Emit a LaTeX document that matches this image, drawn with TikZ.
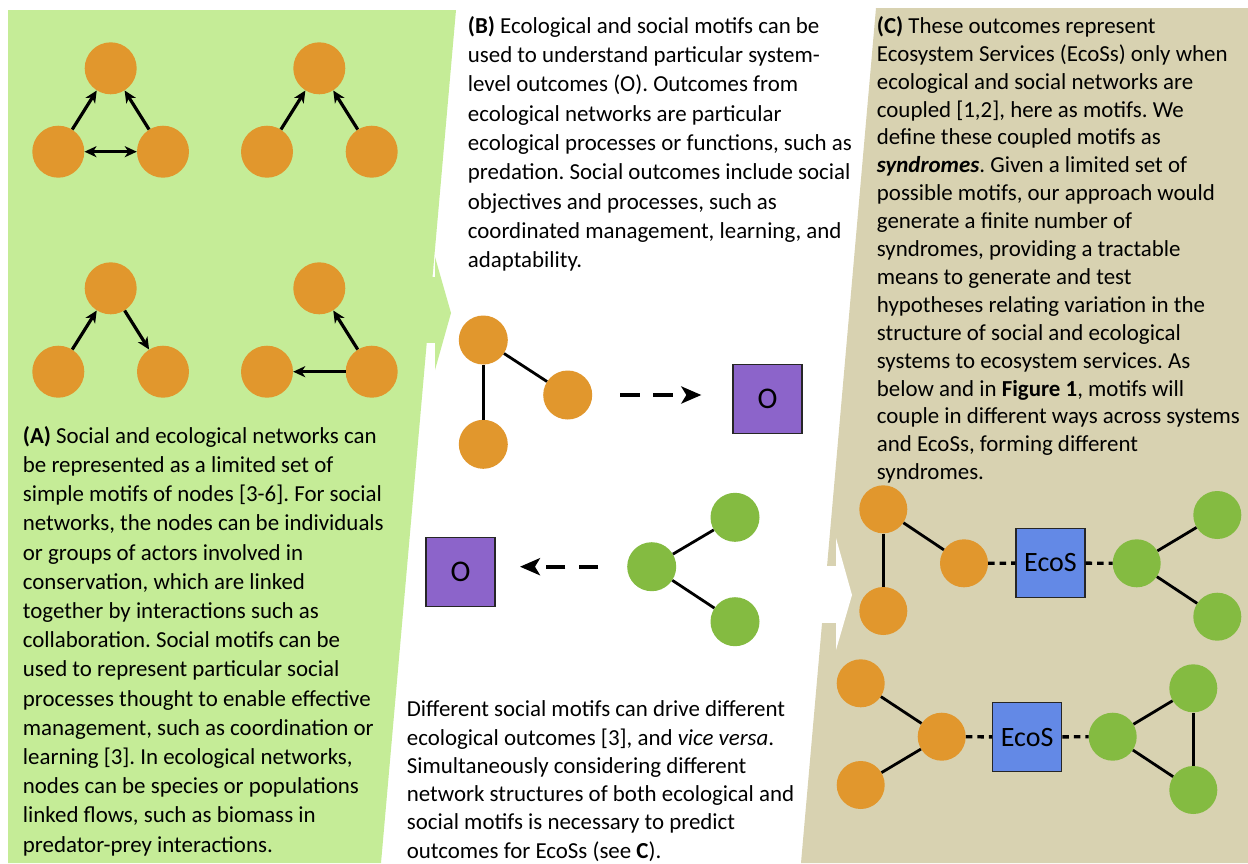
\documentclass[tikz,border=0pt]{standalone}
\usepackage{fontspec}
\setmainfont{Carlito}
\usetikzlibrary{arrows.meta}
\definecolor{panelgreen}{HTML}{C5EC97}
\definecolor{paneltan}{HTML}{D8D2B1}
\definecolor{orng}{HTML}{E1972D}
\definecolor{grn}{HTML}{84BB41}
\definecolor{purp}{HTML}{8C64CA}
\definecolor{blu}{HTML}{6389E6}
\frenchspacing
\begin{document}
\begin{tikzpicture}[x=1pt,y=-1pt,
  ao/.style={circle, fill=orng, inner sep=0pt, minimum size=52pt},
  bo/.style={circle, fill=orng, inner sep=0pt, minimum size=49pt},
  bg/.style={circle, fill=grn, inner sep=0pt, minimum size=49pt},
  co/.style={circle, fill=orng, inner sep=0pt, minimum size=48pt},
  cg/.style={circle, fill=grn, inner sep=0pt, minimum size=48pt},
  obox/.style={draw=black!85, line width=1.3pt, fill=purp, minimum width=69pt, minimum height=69pt, inner sep=0pt, font=\fontsize{30}{30}\selectfont},
  ebox/.style={draw=black!85, line width=1.3pt, fill=blu, minimum width=69pt, minimum height=69pt, inner sep=0pt, font=\fontsize{28}{28}\selectfont},
  arr/.style={line width=3.2pt, -{Stealth[length=12pt,width=11pt,inset=3.5pt]}},
  darr/.style={line width=3.2pt, {Stealth[length=12pt,width=11pt,inset=3.5pt]}-{Stealth[length=12pt,width=11pt,inset=3.5pt]}},
  link/.style={line width=2.8pt},
  dasharr/.style={line width=4pt, -{Stealth[length=20pt,width=17pt,inset=5pt]}},
  dotlink/.style={line width=3.3pt, dash pattern=on 6.5pt off 5pt},
  txt/.style={anchor=base west, inner sep=0pt, font=\fontsize{22.9}{#1}\selectfont}
]
\useasboundingbox (0,0) rectangle (1248,863);
\fill[white] (0,0) rectangle (1248,863);
% panels
\fill[panelgreen] (8,10) -- (456,10) -- (381,863) -- (8,863) -- cycle;
\fill[panelgreen] (419,277) rectangle (436,343);
\fill[panelgreen] (435,257) -- (451,313) -- (435,370) -- cycle;
\fill[paneltan] (876,8) -- (1248,8) -- (1248,863) -- (801,863) -- cycle;
\fill[white] (815,566) rectangle (836.5,623);
\fill[white] (836,538) -- (852,595) -- (836,650) -- cycle;

% panel A motifs
\node[ao] (a1t) at (110.7,68.3) {};
\node[ao] (a1l) at (58.3,151.7) {};
\node[ao] (a1r) at (163,151.7) {};
\node[ao] (a2t) at (319.3,68.3) {};
\node[ao] (a2l) at (267,151.7) {};
\node[ao] (a2r) at (371.7,151.7) {};
\node[ao] (a3t) at (110.7,288.3) {};
\node[ao] (a3l) at (58.3,371.7) {};
\node[ao] (a3r) at (163,371.7) {};
\node[ao] (a4t) at (319.3,288.3) {};
\node[ao] (a4l) at (267,371.7) {};
\node[ao] (a4r) at (371.7,371.7) {};
\draw[arr] (a1l) -- (a1t);
\draw[arr] (a1r) -- (a1t);
\draw[darr] (a1l) -- (a1r);
\draw[arr] (a2l) -- (a2t);
\draw[arr] (a2r) -- (a2t);
\draw[arr] (a3l) -- (a3t);
\draw[arr] (a3t) -- (a3r);
\draw[arr] (a4r) -- (a4t);
\draw[arr] (a4r) -- (a4l);

% panel B
\node[bo] (b1) at (483.3,340) {};
\node[bo] (b2) at (567.7,395) {};
\node[bo] (b3) at (483.3,444.3) {};
\draw[link] (b1) -- (b3);
\draw[link] (b1) -- (b2);
\node[obox] (o1) at (767.5,398.8) {O};
\draw[dasharr, dash pattern=on 20pt off 13.3pt, shorten <=27.6pt, shorten >=31pt] (b2.east) -- (o1.west |- b2.east);

\node[bg] (g1) at (651.7,566.7) {};
\node[bg] (g2) at (735,517.3) {};
\node[bg] (g3) at (735,621.7) {};
\draw[link] (g1) -- (g2);
\draw[link] (g1) -- (g3);
\node[obox] (o2) at (460.5,571.7) {O};
\draw[dasharr, dash pattern=on 19pt off 14pt, shorten <=28.7pt, shorten >=24.3pt] (g1.west) -- (o2.east |- g1.west);

% panel C row 1
\node[co] (c1a) at (883.3,509.3) {};
\node[co] (c1b) at (883.3,611) {};
\node[co] (c1c) at (964,563.3) {};
\node[ebox] (e1) at (1050.5,563) {EcoS};
\node[cg] (d1a) at (1136.7,563.3) {};
\node[cg] (d1b) at (1217.3,515) {};
\node[cg] (d1c) at (1217.3,616.7) {};
\draw[link] (c1a) -- (c1b);
\draw[link] (c1a) -- (c1c);
\draw[link] (d1a) -- (d1b);
\draw[link] (d1a) -- (d1c);
\draw[dotlink] (c1c) -- (e1);
\draw[dotlink] (e1) -- (d1a);

% panel C row 2
\node[co] (c2a) at (860.7,683.3) {};
\node[co] (c2b) at (860.7,785) {};
\node[co] (c2c) at (941.7,736.7) {};
\node[ebox] (e2) at (1027.2,737) {EcoS};
\node[cg] (d2a) at (1112.7,736.7) {};
\node[cg] (d2b) at (1193.3,688.3) {};
\node[cg] (d2c) at (1193.3,790) {};
\draw[link] (c2c) -- (c2a);
\draw[link] (c2c) -- (c2b);
\draw[link] (d2a) -- (d2b);
\draw[link] (d2a) -- (d2c);
\draw[link] (d2b) -- (d2c);
\draw[dotlink] (c2c) -- (e2);
\draw[dotlink] (e2) -- (d2a);

% texts
\node[txt=29.2] (ta) at (22.7,443.3) {\begin{tabular}[t]{@{}l@{}}
\textbf{(A)} Social and ecological networks can\\
be represented as a limited set of\\
simple motifs of nodes [3-6]. For social\\
networks, the nodes can be individuals\\
or groups of actors involved in\\
conservation, which are linked\\
together by interactions such as\\
collaboration. Social motifs can be\\
used to represent particular social\\
processes thought to enable effective\\
management, such as coordination or\\
learning [3]. In ecological networks,\\
nodes can be species or populations\\
linked flows, such as biomass in\\
predator-prey interactions.
\end{tabular}};

\node[txt=29.3] (tb) at (467.7,33.3) {\begin{tabular}[t]{@{}l@{}}
\textbf{(B)} Ecological and social motifs can be\\
used to understand particular system-\\
level outcomes (O). Outcomes from\\
ecological networks are particular\\
ecological processes or functions, such as\\
predation. Social outcomes include social\\
objectives and processes, such as\\
coordinated management, learning, and\\
adaptability.
\end{tabular}};

\node[txt=28.3] (tb2) at (406.7,716.7) {\begin{tabular}[t]{@{}l@{}}
Different social motifs can drive different\\
ecological outcomes [3], and \textit{vice versa}.\\
Simultaneously considering different\\
network structures of both ecological and\\
social motifs is necessary to predict\\
outcomes for EcoSs (see \textbf{C}).
\end{tabular}};

\node[txt=27.9] (tc) at (876.7,33.3) {\begin{tabular}[t]{@{}l@{}}
\textbf{(C)} These outcomes represent\\
Ecosystem Services (EcoSs) only when\\
ecological and social networks are\\
coupled [1,2], here as motifs. We\\
define these coupled motifs as\\
\textbf{\textit{syndromes}}. Given a limited set of\\
possible motifs, our approach would\\
generate a finite number of\\
syndromes, providing a tractable\\
means to generate and test\\
hypotheses relating variation in the\\
structure of social and ecological\\
systems to ecosystem services. As\\
below and in \textbf{Figure 1}, motifs will\\
couple in different ways across systems\\
and EcoSs, forming different\\
syndromes.
\end{tabular}};
\end{tikzpicture}
\end{document}
